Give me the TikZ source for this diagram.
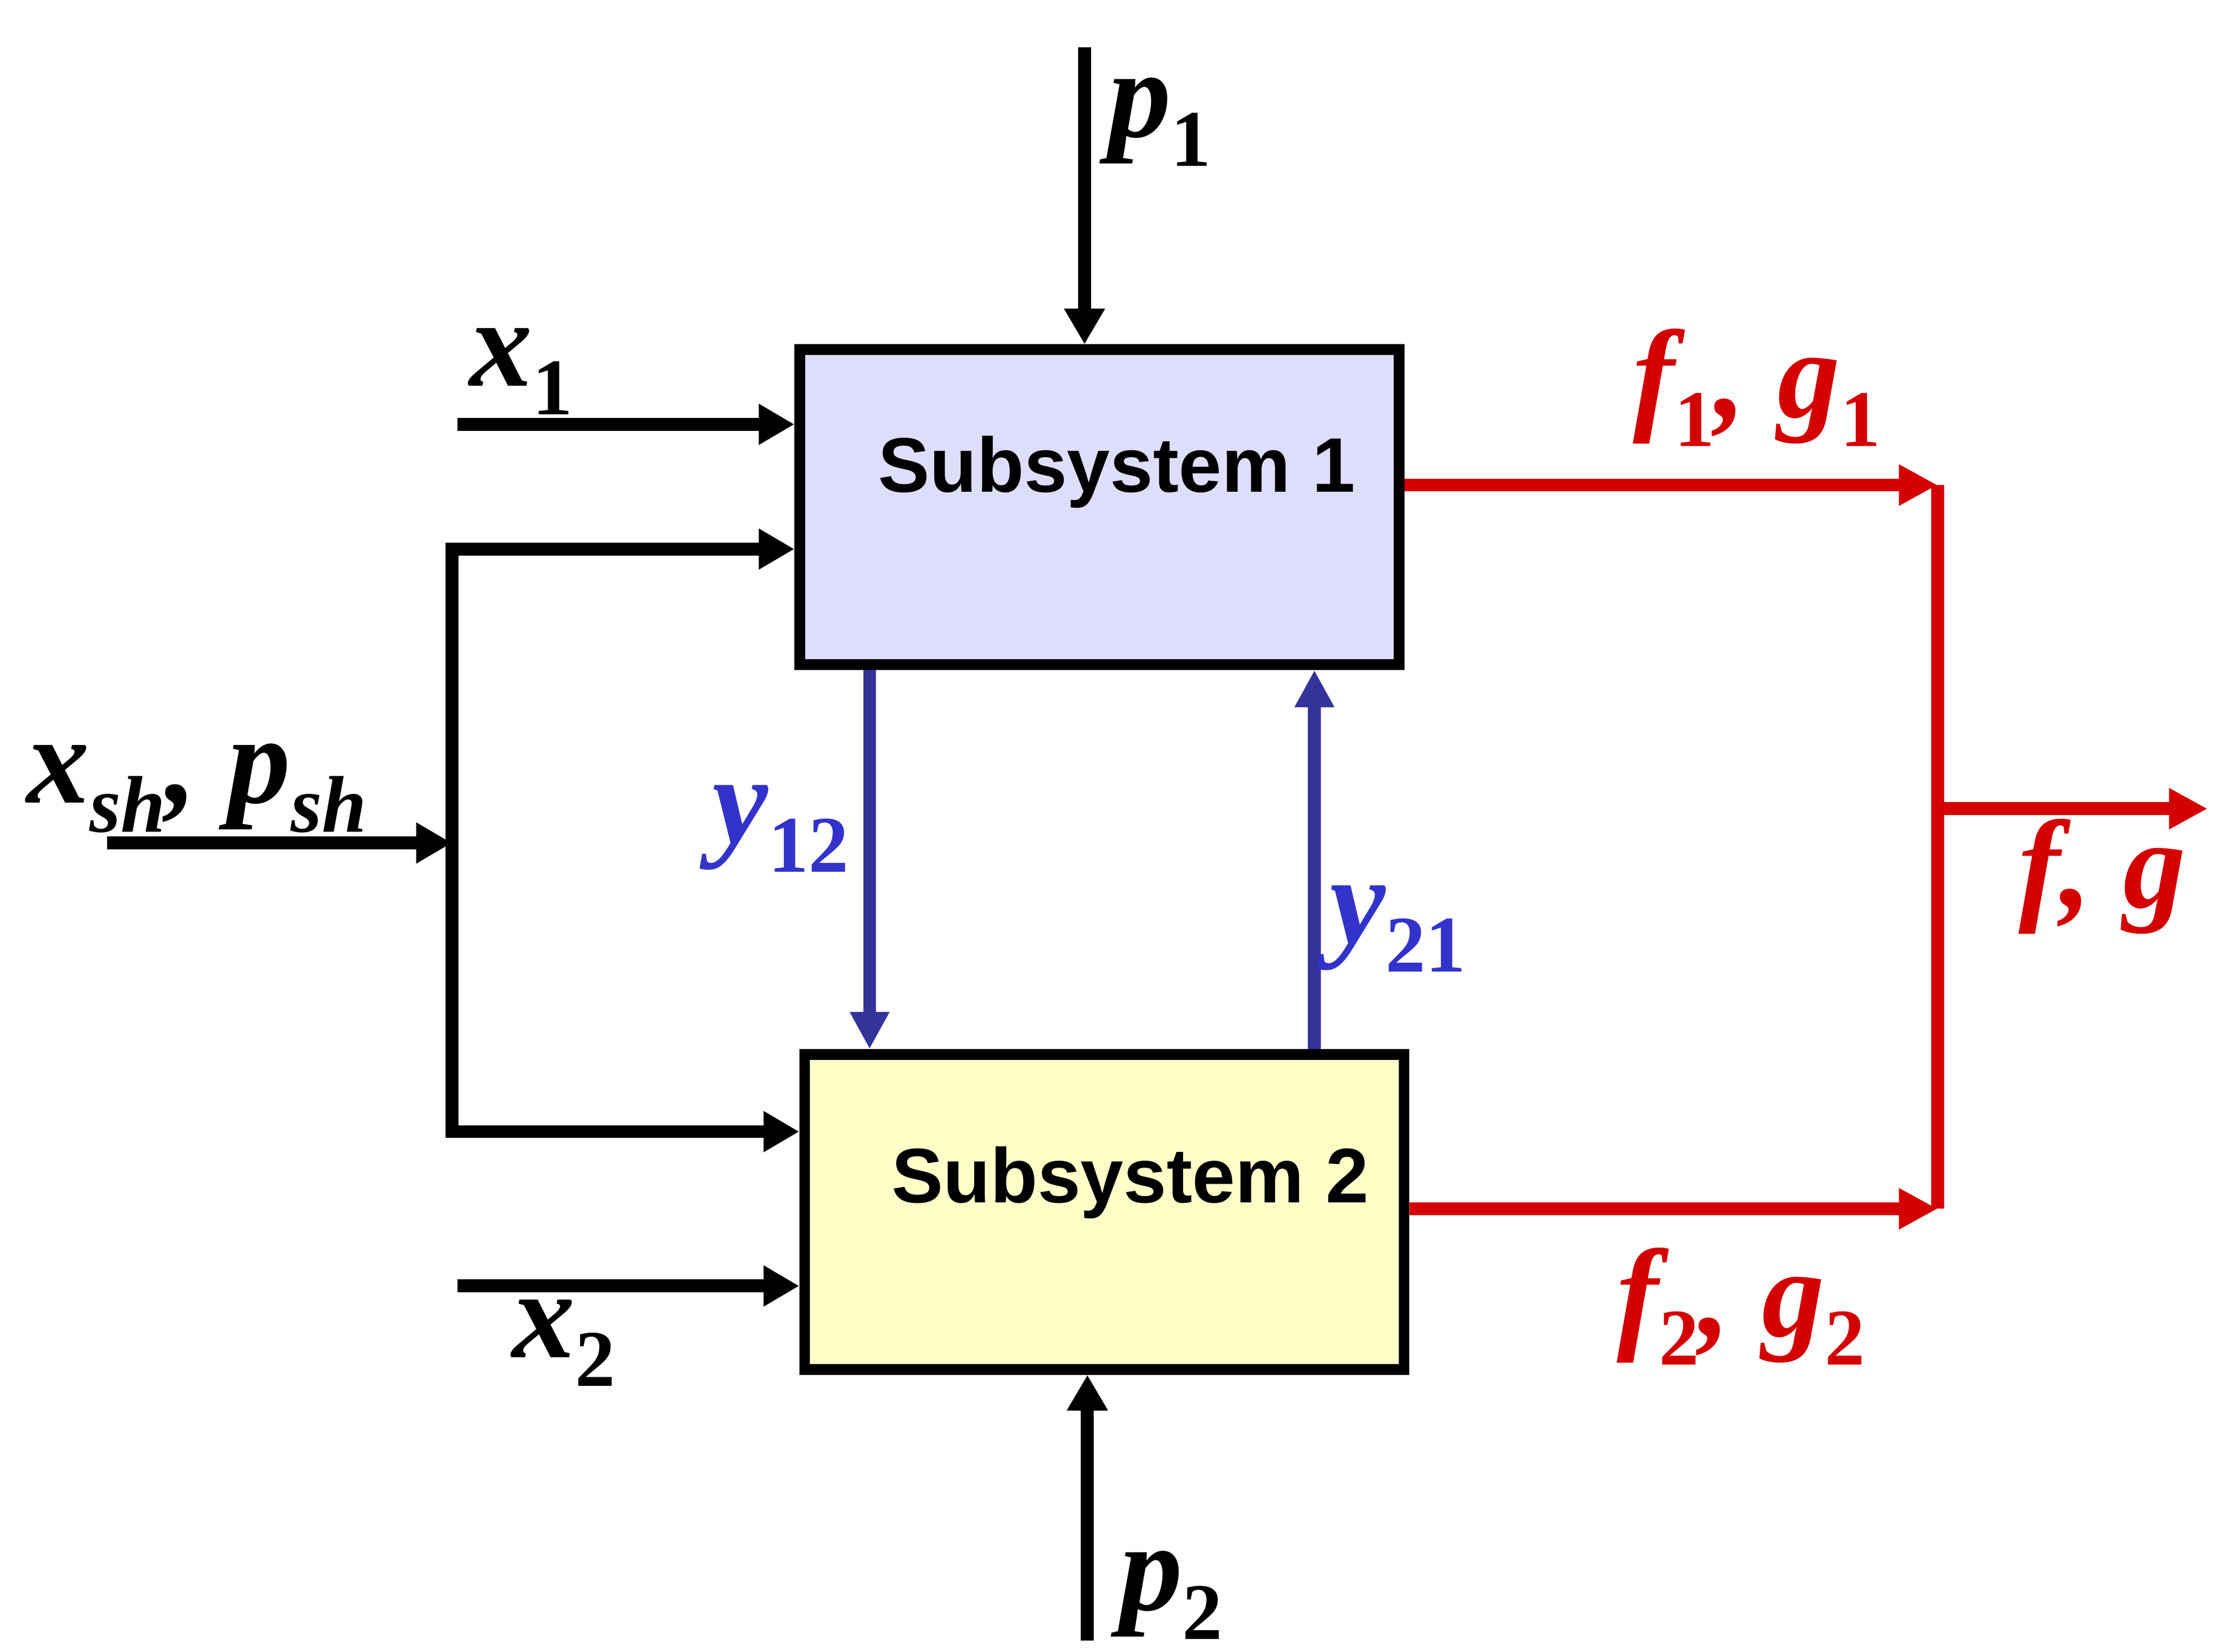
\documentclass[tikz,border=0pt]{standalone}
\usepackage{fontspec}
\setmainfont{Liberation Serif}
\newfontfamily\sysfont{Liberation Sans}
\usetikzlibrary{arrows.meta}

\definecolor{sysred}{RGB}{212,0,0}
\definecolor{sysblue}{RGB}{51,51,153}
\definecolor{labblue}{RGB}{51,51,204}
\definecolor{boxblue}{RGB}{222,222,252}
\definecolor{boxyellow}{RGB}{255,255,200}

\newcommand{\vsub}[1]{\raisebox{-0.23em}{\fontsize{16}{16}\selectfont\upshape #1}}

\tikzset{   sysbox/.style={draw,line width=0.075cm,minimum width=4.195cm,minimum height=2.205cm,inner sep=0pt,
                font=\sysfont\bfseries\fontsize{15.4}{18}\selectfont,text height=0.39cm,text depth=0.6cm},
            blackarrow/.style={line width=0.09cm,-{Triangle[length=0.25cm,width=0.27cm]}},
            bluearrow/.style={draw=sysblue,line width=0.09cm,-{Triangle[length=0.26cm,width=0.26cm]}},
            redarrow/.style={draw=sysred,line width=0.09cm,-{Triangle[length=0.27cm,width=0.27cm]}},
            redline/.style={draw=sysred,line width=0.09cm},
            lab/.style={font=\fontsize{25}{25}\selectfont\bfseries\itshape,inner sep=0pt,anchor=base west},
}

\begin{document}
\begin{tikzpicture}
    \useasboundingbox (0,0) rectangle (15.6,11.56);

    \node[sysbox,fill=boxblue] (sub1) at (7.695,8.01) {\hspace*{0.24cm}Subsystem 1}; % subsystems
    \node[sysbox,fill=boxyellow,text depth=0.52cm] (sub2) at (7.729,3.078) {\hspace*{0.36cm}Subsystem 2};

    \coordinate (p1in) at (7.59,11.23); % free ends
    \coordinate (p2in) at (7.61,0.08);
    \coordinate (x1in) at (3.20,8.59);
    \coordinate (x2in) at (3.20,2.56);
    \coordinate (shin) at (0.75,5.66);
    \coordinate (shmid) at (3.163,5.66);
    \coordinate (shup) at (3.163,7.717);
    \coordinate (shdown) at (3.163,3.64);
    \coordinate (red1) at (13.56,8.165);
    \coordinate (red2) at (13.56,3.10);
    \coordinate (redmid) at (13.56,5.90);
    \coordinate (fgout) at (15.45,5.90);

    \draw[blackarrow] (p1in) -- (p1in |- sub1.north); % inputs
    \draw[blackarrow] (p2in) -- (p2in |- sub2.south);
    \draw[blackarrow] (x1in) -- (x1in -| sub1.west);
    \draw[blackarrow] (x2in) -- (x2in -| sub2.west);
    \draw[blackarrow] (shin) -- (shmid);
    \draw[blackarrow] (shmid) -- (shup) -- (shup -| sub1.west);
    \draw[blackarrow] (shmid) -- (shdown) -- (shdown -| sub2.west);

    \draw[bluearrow] ([xshift=-1.609cm]sub1.south) -- ([xshift=-1.609cm]sub1.south |- sub2.north); % coupling
    \draw[bluearrow] ([xshift=1.47cm]sub2.north) -- ([xshift=1.47cm]sub2.north |- sub1.south);

    \draw[redarrow] ([yshift=0.155cm]sub1.east) -- (red1); % outputs
    \draw[redarrow] ([yshift=0.022cm]sub2.east) -- (red2);
    \draw[redline] (red1) -- (red2);
    \draw[redarrow] (redmid) -- (fgout);

    \node[lab] (p1) at (7.75,10.60) {p\vsub{1}}; % labels
    \node[lab] (p2) at (7.83,0.29) {p\vsub{2}};
    \node[lab] (x1) at (3.28,8.86) {x\vsub{1}};
    \node[lab] (x2) at (3.58,2.06) {x\vsub{2}};
    \node[lab] (xsh) at (0.18,5.94) {x\vsub{\itshape sh}, p\vsub{\itshape sh}};
    \node[lab,text=labblue] (y12) at (4.98,5.66) {y\vsub{12}};
    \node[lab,text=labblue] (y21) at (9.30,4.96) {y\vsub{21}};
    \node[lab,text=sysred] (fg1) at (11.42,8.64) {f\vsub{1}, g\vsub{1}};
    \node[lab,text=sysred] (fg2) at (11.31,2.21) {f\vsub{2}, g\vsub{2}};
    \node[lab,text=sysred] (fg) at (14.12,5.21) {f, g};
\end{tikzpicture}
\end{document}
